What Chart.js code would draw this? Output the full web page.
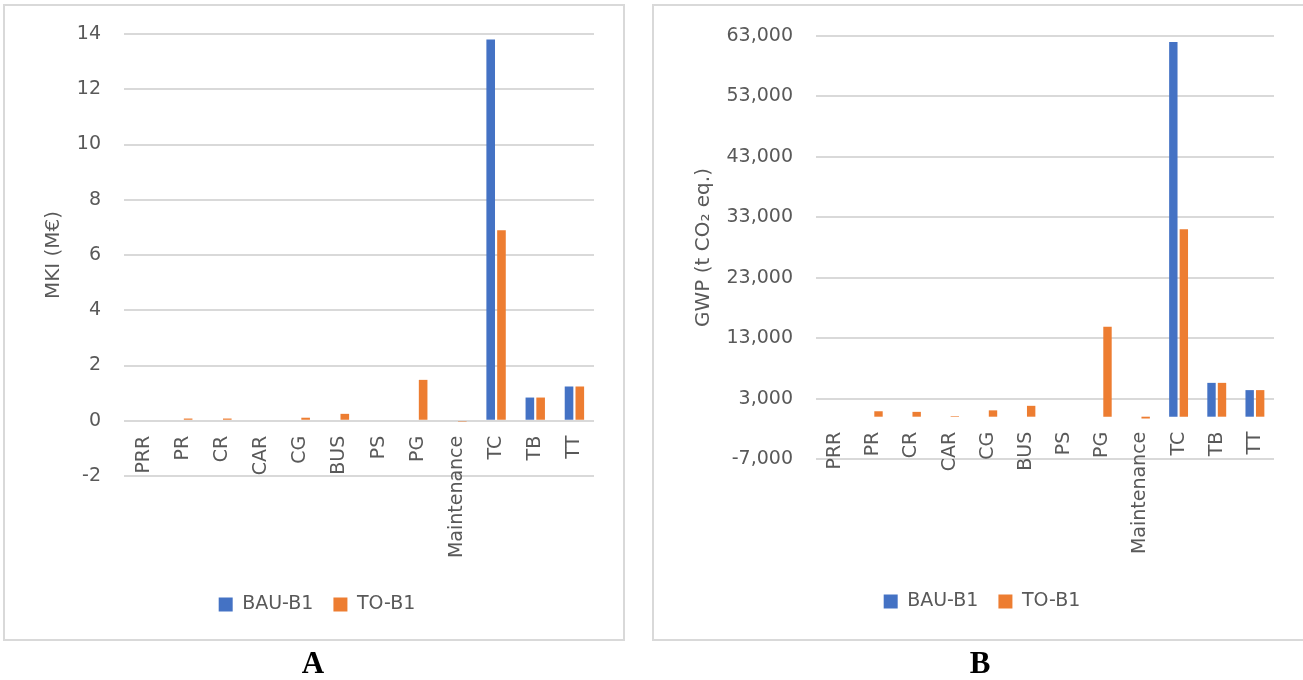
<!DOCTYPE html>
<html>
<head>
<meta charset="utf-8">
<script src="https://cdn.jsdelivr.net/npm/chart.js@4.4.1/dist/chart.umd.min.js"></script>
<style>
  html, body { margin: 0; padding: 0; background: #fff; width: 1303px; height: 680px; overflow: hidden; position: relative; }
  .frame { position: absolute; box-sizing: border-box; border: 2px solid #d9d9d9; }
  canvas { position: absolute; }
  .tag { position: absolute; width: 100px; text-align: center; font: bold 31px "Liberation Serif", "Times New Roman", serif; line-height: 31px; color: #000; }
</style>
</head>
<body>
<div class="frame" style="left:3px;top:4px;width:622px;height:637px"></div>
<div class="frame" style="left:652px;top:4px;width:660px;height:637px"></div>
<canvas id="mki" width="618" height="640" style="left:5px;top:6px"></canvas>
<canvas id="gwp" width="656" height="640" style="left:654px;top:6px"></canvas>
<div class="tag" style="left:263px;top:647px">A</div>
<div class="tag" style="left:930px;top:647px">B</div>

<script>
// Life-cycle stages
const categories = ['PRR', 'PR', 'CR', 'CAR', 'CG', 'BUS', 'PS', 'PG', 'Maintenance', 'TC', 'TB', 'TT'];
const seriesNames = ['BAU-B1', 'TO-B1'];

// A: MKI (M€)
const mkiBau = [0, 0, 0, 0, 0, 0, 0, 0, 0, 13.8, 0.84, 1.24];
const mkiTo  = [0, 0.08, 0.08, 0, 0.11, 0.25, 0, 1.48, -0.02, 6.9, 0.84, 1.24];
const mkiTicks = [-2, 0, 2, 4, 6, 8, 10, 12, 14];

// B: GWP (t CO2 eq.)
const gwpBau = [0, 0, 0, 0, 0, 0, 0, 0, 0, 62000, 5600, 4400];
const gwpTo  = [0, 900, 800, 100, 1050, 1800, 0, 14900, -300, 31000, 5600, 4400];
const gwpTicks = [-7000, 3000, 13000, 23000, 33000, 43000, 53000, 63000];

const BLUE = '#4472C4';
const ORANGE = '#ED7D31';
const TEXT = '#595959';
const GRID = '#d9d9d9';
const FONT = '"DejaVu Sans", "Open Sans", sans-serif';

function buildChart(canvasId, bau, to, ticks, axisTitle, fmt, geo) {
  return new Chart(document.getElementById(canvasId), {
    type: 'bar',
    data: {
      labels: categories,
      datasets: [
        { label: seriesNames[0], data: bau, backgroundColor: BLUE, xAxisID: 'x', yAxisID: 'y',
          categoryPercentage: 0.55, barPercentage: 0.8 },
        { label: seriesNames[1], data: to, backgroundColor: ORANGE, xAxisID: 'x', yAxisID: 'y',
          categoryPercentage: 0.55, barPercentage: 0.8 }
      ]
    },
    options: {
      responsive: false,
      animation: false,
      layout: { padding: { left: geo.left, top: geo.top, right: geo.right, bottom: geo.bottom } },
      plugins: {
        tooltip: { enabled: false },
        legend: {
          position: 'bottom',
          labels: {
            boxWidth: 14, boxHeight: 14, padding: 20,
            color: TEXT, font: { family: FONT, size: 19 }
          }
        }
      },
      scales: {
        // category labels hang from the zero line
        x: {
          type: 'category',
          position: { y: 0 },
          grid: { display: false, drawTicks: false },
          border: { display: false },
          ticks: {
            color: TEXT, font: { family: FONT, size: 19 },
            minRotation: 90, maxRotation: 90, autoSkip: false, padding: 15
          }
        },
        // empty band between the plot and the legend
        spacer: {
          type: 'category',
          position: 'bottom',
          display: true,
          grid: { display: false, drawTicks: false },
          border: { display: false },
          ticks: { display: false },
          afterFit: s => { s.height = geo.gap; }
        },
        y: {
          type: 'linear',
          position: 'left',
          min: ticks[0],
          max: ticks[ticks.length - 1],
          afterBuildTicks: s => { s.ticks = ticks.map(v => ({ value: v })); },
          afterFit: s => { s.width = geo.axisWidth; },
          grid: { color: GRID, lineWidth: 2, drawTicks: true, tickLength: 20, tickColor: 'rgba(0,0,0,0)' },
          border: { display: false },
          ticks: {
            color: TEXT, font: { family: FONT, size: 19 }, padding: 3,
            callback: v => fmt(v)
          },
          title: {
            display: true, text: axisTitle, color: TEXT,
            font: { family: FONT, size: 20 },
            padding: { top: geo.titlePad, bottom: 0 }
          }
        }
      }
    }
  });
}

buildChart('mki', mkiBau, mkiTo, mkiTicks, 'MKI (M€)',
  v => String(v),
  { left: 35, top: 28, right: 29, bottom: 22, gap: 99, axisWidth: 84, titlePad: 2 });

buildChart('gwp', gwpBau, gwpTo, gwpTicks, 'GWP (t CO₂ eq.)',
  v => v.toLocaleString('en-US'),
  { left: 36, top: 30, right: 36, bottom: 25, gap: 113, axisWidth: 126, titlePad: 2 });
</script>
</body>
</html>
